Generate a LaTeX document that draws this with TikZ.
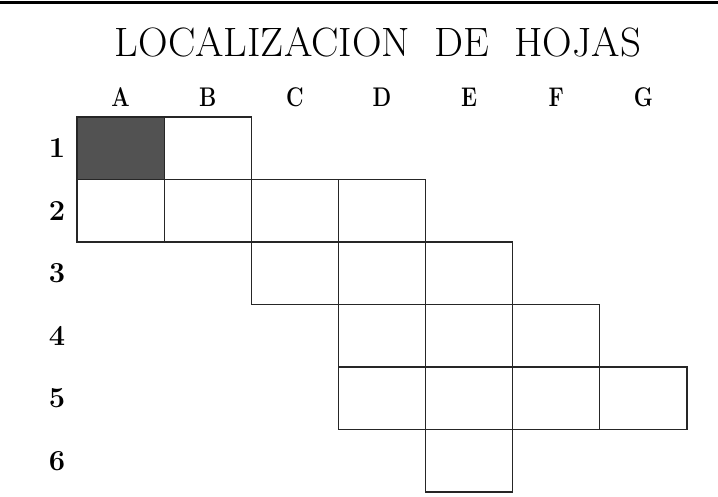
\documentclass[tikz,border=0pt]{standalone}
\begin{document}
\begin{tikzpicture}[x=1pt,y=-1pt,
  cellbox/.style={draw=black!85,line width=1.2pt},
  shaded/.style={cellbox,fill=black!68},
  title/.style={font=\fontsize{41}{41}\selectfont},
  collabel/.style={font=\fontsize{27}{27}\selectfont\bfseries},
  rowlabel/.style={font=\fontsize{29}{29}\selectfont\bfseries}]
\useasboundingbox (0,0) rectangle (718,497);
\draw[line width=3pt] (0,3) -- (718,3);
\node[title] (t) at (378,42) {\scalebox{1.0}[1]{LOCALIZACION\ \ DE\ \ HOJAS}};
\foreach \l [count=\i] in {A,B,C,D,E,F,G}
  \node[collabel] (c\l) at ({77+(\i-0.5)*87.14},97) {\scalebox{0.8}[1]{\l}};
\foreach \i in {1,...,6}
  \node[rowlabel] (r\i) at (57,{117+(\i-0.5)*62.5}) {\i};
\foreach \c/\r in {2/1,1/2,2/2,3/2,4/2,3/3,4/3,5/3,4/4,5/4,6/4,4/5,5/5,6/5,7/5,5/6}
  \draw[cellbox] ({77+(\c-1)*87.14},{117+(\r-1)*62.5}) rectangle ++(87.14,62.5);
\draw[shaded] (77,117) rectangle ++(87.14,62.5);
\end{tikzpicture}
\end{document}
